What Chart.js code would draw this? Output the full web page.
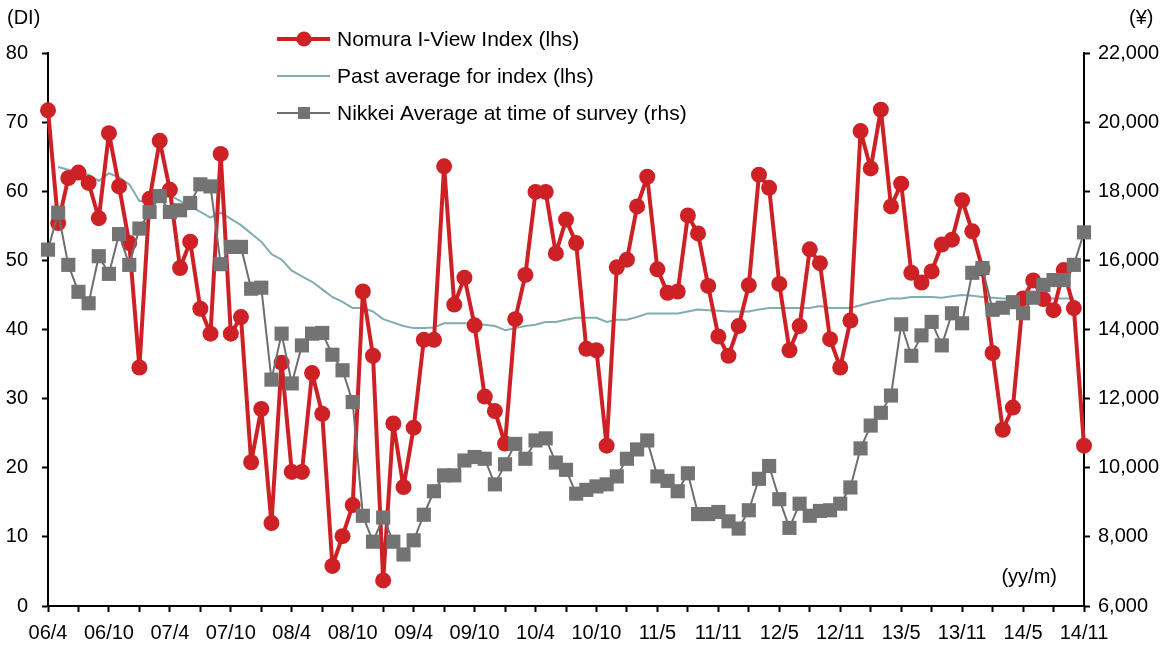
<!DOCTYPE html>
<html>
<head>
<meta charset="utf-8">
<script src="https://cdn.jsdelivr.net/npm/chart.js@4.4.0/dist/chart.umd.min.js"></script>
<style>
  html, body { margin: 0; padding: 0; background: #fff; }
  #wrap { width: 1176px; height: 646px; }
</style>
</head>
<body>
<div id="wrap"><canvas id="grafico" width="1176" height="646"></canvas></div>
<script>
// Etiquetas del eje X (una cada 6 encuestas)
const tickLabels = ["06/4", "06/10", "07/4", "07/10", "08/4", "08/10", "09/4", "09/10", "10/4",
    "10/10", "11/5", "11/11", "12/5", "12/11", "13/5", "13/11", "14/5", "14/11"];

// Nomura I-View Index (lhs)
const nomuraIndex = [
    71.7, 55.4, 61.9, 62.7, 61.2, 56.1, 68.4, 60.7, 52.5, 34.5, 58.9, 67.3, 60.2, 48.9, 52.7, 43.0,
    39.4, 65.4, 39.4, 41.8, 20.8, 28.5, 12.0, 35.2, 19.4, 19.4, 33.7, 27.8, 5.8, 10.1, 14.6, 45.5,
    36.2, 3.7, 26.4, 17.2, 25.8, 38.5, 38.5, 63.6, 43.6, 47.5, 40.6, 30.3, 28.2, 23.5, 41.5, 47.9,
    59.9, 59.9, 51.0, 55.9, 52.5, 37.2, 37.0, 23.2, 49.0, 50.1, 57.8, 62.1, 48.7, 45.3, 45.5, 56.5,
    53.9, 46.3, 39.0, 36.2, 40.5, 46.4, 62.4, 60.5, 46.6, 37.0, 40.5, 51.6, 49.6, 38.6, 34.5, 41.3,
    68.7, 63.3, 71.8, 57.8, 61.1, 48.2, 46.8, 48.4, 52.3, 53.0, 58.7, 54.2, 48.8, 36.6, 25.5, 28.7,
    44.5, 47.1, 44.4, 42.8, 48.6, 43.1, 23.2
];

// Past average for index (lhs)
const pastAverage = [
    null, 63.5, 63.1, 62.8, 62.4, 61.5, 62.6, 62.0, 61.0, 58.6, 58.6, 59.7, 59.4, 58.6, 57.8, 57.0,
    56.2, 56.9, 56.0, 55.1, 53.9, 52.7, 50.9, 50.1, 48.5, 47.7, 46.9, 45.8, 44.7, 44.0, 43.1, 43.1,
    42.6, 41.5, 41.0, 40.5, 40.2, 40.2, 40.3, 40.9, 40.9, 40.9, 40.9, 40.7, 40.5, 39.9, 40.2, 40.5,
    40.7, 41.1, 41.1, 41.4, 41.7, 41.7, 41.7, 41.1, 41.4, 41.4, 41.8, 42.3, 42.3, 42.3, 42.3, 42.6,
    42.9, 42.8, 42.7, 42.6, 42.6, 42.6, 42.9, 43.1, 43.1, 43.1, 43.1, 43.1, 43.4, 43.1, 43.1, 43.1,
    43.5, 43.9, 44.2, 44.5, 44.5, 44.7, 44.7, 44.7, 44.6, 44.8, 45.0, 44.9, 44.7, 44.6, 44.5, 44.5,
    44.5, 44.5, 44.5, 44.5, 44.5, 44.5, null
];

// Nikkei Average at time of survey (rhs, yenes)
const nikkeiAverage = [
    16310, 17380, 15870, 15090, 14760, 16120, 15610, 16760, 15870, 16920, 17400, 17860, 17400, 17450, 17660, 18200,
    18140, 15890, 16390, 16390, 15180, 15210, 12550, 13880, 12440, 13540, 13880, 13900, 13270, 12820, 11900, 8610,
    7860, 8560, 7860, 7490, 7900, 8640, 9320, 9780, 9780, 10210, 10310, 10260, 9520, 10100, 10690, 10260,
    10790, 10850, 10150, 9940, 9250, 9360, 9460, 9520, 9750, 10260, 10530, 10790, 9750, 9620, 9320, 9840,
    8660, 8660, 8720, 8450, 8240, 8770, 9680, 10050, 9090, 8260, 8960, 8610, 8750, 8770, 8960, 9430,
    10560, 11220, 11590, 12090, 14150, 13240, 13830, 14220, 13540, 14470, 14180, 15640, 15780, 14570, 14630, 14790,
    14470, 14920, 15290, 15430, 15430, 15870, 16810
];

const nombresSeries = ["Nomura I-View Index (lhs)", "Past average for index (lhs)", "Nikkei Average at time of survey (rhs)"];

// Categorías: una por encuesta, con la etiqueta visible cada 6
const categorias = nomuraIndex.map((v, i) => (i % 6 === 0 ? tickLabels[i / 6] : ""));

const FUENTE = '"Liberation Sans", Arial, sans-serif';
Chart.defaults.font.family = FUENTE;
Chart.defaults.font.size = 20;
Chart.defaults.color = "#000";

const ROJO = "#cd2126";
const GRIS = "#737373";
const TURQUESA = "#80adb1";

// Textos fijos y leyenda dibujados sobre el gráfico
const textosPlugin = {
    id: "textos",
    afterDraw(chart) {
        const ctx = chart.ctx;
        const area = chart.chartArea;
        ctx.save();
        ctx.font = "20px " + FUENTE;
        ctx.fillStyle = "#000";
        ctx.textBaseline = "middle";
        ctx.textAlign = "left";
        ctx.fillText("(DI)", 7, 18);
        ctx.fillText("(¥)", 1129, 18);
        ctx.textAlign = "right";
        ctx.fillText("(yy/m)", area.right - 27, area.bottom - 29);

        // leyenda
        const filas = [
            { ds: chart.data.datasets[0], y: 39 },
            { ds: chart.data.datasets[1], y: 76 },
            { ds: chart.data.datasets[2], y: 113 }
        ];
        ctx.font = "21px " + FUENTE;
        ctx.textAlign = "left";
        filas.forEach(f => {
            ctx.strokeStyle = f.ds.borderColor;
            ctx.lineWidth = f.ds.borderWidth;
            ctx.beginPath();
            ctx.moveTo(277, f.y);
            ctx.lineTo(330, f.y);
            ctx.stroke();
            if (f.ds.pointStyle === "circle") {
                ctx.fillStyle = f.ds.pointBackgroundColor;
                ctx.beginPath();
                ctx.arc(304, f.y, 7.5, 0, Math.PI * 2);
                ctx.fill();
            } else if (f.ds.pointStyle === "rect") {
                ctx.fillStyle = f.ds.pointBackgroundColor;
                ctx.fillRect(298, f.y - 6, 12, 12);
            }
            ctx.fillStyle = "#000";
            ctx.fillText(f.ds.label, 337, f.y + 1);
        });
        ctx.restore();
    }
};

const grafico = document.getElementById("grafico");
new Chart(grafico, {
    type: "line",
    data: {
        labels: categorias,
        datasets: [
            {
                label: nombresSeries[0],
                data: nomuraIndex,
                yAxisID: "y",
                borderColor: ROJO,
                borderWidth: 4,
                borderJoinStyle: "round",
                pointStyle: "circle",
                pointRadius: 8,
                pointBorderWidth: 0,
                pointBackgroundColor: ROJO,
                tension: 0,
                clip: false,
                order: 1
            },
            {
                label: nombresSeries[1],
                data: pastAverage,
                yAxisID: "y",
                borderColor: TURQUESA,
                borderWidth: 2,
                borderJoinStyle: "round",
                pointRadius: 0,
                pointStyle: false,
                tension: 0,
                clip: false,
                order: 2
            },
            {
                label: nombresSeries[2],
                data: nikkeiAverage,
                yAxisID: "y2",
                borderColor: "#6e6e6e",
                borderWidth: 2,
                borderJoinStyle: "round",
                pointStyle: "rect",
                pointRadius: 10,
                pointBorderWidth: 0,
                pointBackgroundColor: GRIS,
                tension: 0,
                clip: false,
                order: 0
            }
        ]
    },
    options: {
        responsive: false,
        animation: false,
        layout: { padding: { top: 53, left: 0, right: 0, bottom: 0 } },
        plugins: {
            legend: { display: false },
            tooltip: { enabled: false }
        },
        scales: {
            x: {
                offset: false,
                grid: {
                    drawOnChartArea: false,
                    drawTicks: true,
                    tickLength: 6,
                    tickWidth: 2,
                    tickColor: ctx => (ctx.index % 3 === 0 ? "#000" : "rgba(0,0,0,0)")
                },
                border: { display: true, color: "#000", width: 2 },
                ticks: { autoSkip: false, maxRotation: 0, minRotation: 0, padding: 9, color: "#000" },
                afterFit: scale => { scale.height = 40; }
            },
            y: {
                position: "left",
                min: 0,
                max: 80,
                ticks: { stepSize: 10, padding: 14, color: "#000" },
                grid: { drawOnChartArea: false, tickLength: 6, tickWidth: 2, tickColor: "#000" },
                border: { display: true, color: "#000", width: 2 },
                afterFit: scale => { scale.width = 48; }
            },
            y2: {
                position: "right",
                min: 6000,
                max: 22000,
                ticks: {
                    stepSize: 2000,
                    padding: 8,
                    color: "#000",
                    callback: v => v.toLocaleString("en-US")
                },
                grid: { drawOnChartArea: false, tickLength: 6, tickWidth: 2, tickColor: "#000" },
                border: { display: true, color: "#000", width: 2 },
                afterFit: scale => { scale.width = 92; }
            }
        }
    },
    plugins: [textosPlugin]
});
</script>
</body>
</html>
